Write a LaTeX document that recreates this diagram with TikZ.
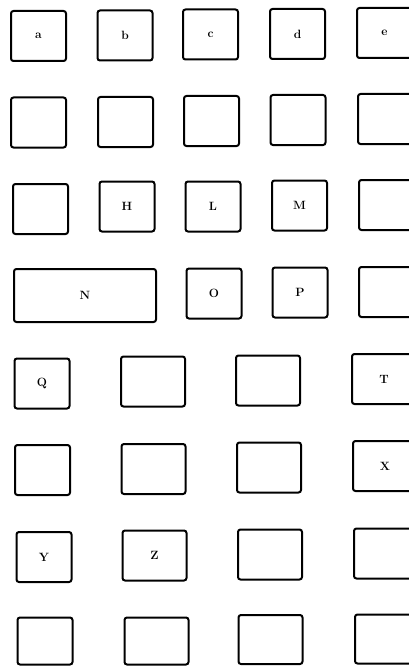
\documentclass[tikz,border=0pt]{standalone}
\usepackage{tikz}
\begin{document}
\begin{tikzpicture}[x=1pt,y=-1pt,font=\fontsize{12}{14}\selectfont\bfseries]
\tikzstyle{key}=[draw,line width=2pt,rounded corners=2.5pt,minimum width=55pt,minimum height=50pt,inner sep=0pt]
\tikzstyle{wkey}=[key,minimum width=64pt]
\useasboundingbox (0,0) rectangle (409,666);
\clip (0,0) rectangle (409,666);
% row 1
\node[key] (ka) at (38.5,36) {a};
\node[key] (kb) at (125,35.5) {b};
\node[key] (kc) at (210.5,34.5) {c};
\node[key] (kd) at (297.5,34) {d};
\node[key] (ke) at (384.5,33) {e};
% row 2
\node[key] (r2a) at (38.5,122.5) {};
\node[key] (r2b) at (125.5,122) {};
\node[key] (r2c) at (211.5,121) {};
\node[key] (r2d) at (298,120) {};
\node[key] (r2e) at (385.5,119) {};
% row 3
\node[key] (r3a) at (40.5,209) {};
\node[key] (kh) at (127,206.5) {H};
\node[key] (kl) at (213,206.5) {L};
\node[key] (km) at (299.5,205.5) {M};
\node[key] (r3e) at (386.5,205) {};
% row 4
\node[key,minimum width=142pt,minimum height=53pt] (kn) at (85,295.5) {N};
\node[key] (ko) at (214,293.5) {O};
\node[key] (kp) at (300,292.5) {P};
\node[key] (r4e) at (386.5,292) {};
% row 5
\node[key] (kq) at (42,383.5) {Q};
\node[wkey] (r5b) at (153,381.5) {};
\node[wkey] (r5c) at (268,380.5) {};
\node[wkey] (kt) at (384,379) {T};
% row 6
\node[key] (r6a) at (42.5,470) {};
\node[wkey] (r6b) at (153.5,469) {};
\node[wkey] (r6c) at (269,467.5) {};
\node[wkey] (kx) at (385,466) {X};
% row 7
\node[key] (ky) at (44,557) {Y};
\node[wkey] (kz) at (154.5,555.5) {Z};
\node[wkey] (r7c) at (270,554.5) {};
\node[wkey] (r7d) at (386,553.5) {};
% row 8
\node[key,minimum height=47pt] (r8a) at (45,641) {};
\node[wkey,minimum height=47pt] (r8b) at (156.5,641) {};
\node[wkey,minimum height=49pt] (r8c) at (270.5,639.5) {};
\node[wkey,minimum height=49pt] (r8d) at (387,639) {};
\end{tikzpicture}
\end{document}
